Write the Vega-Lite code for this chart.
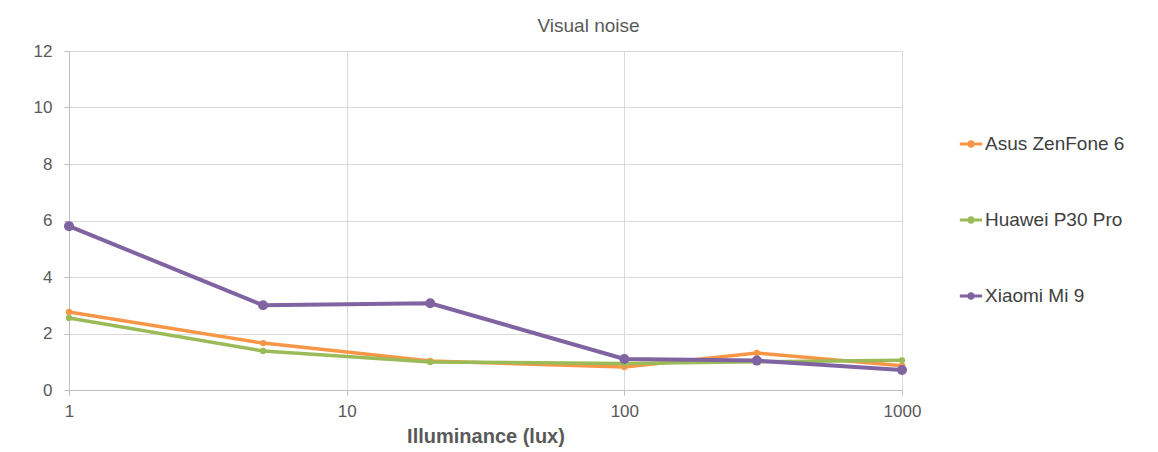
{
  "$schema": "https://vega.github.io/schema/vega-lite/v6.json",
  "width": 833,
  "height": 339,
  "autosize": {"type": "none"},
  "padding": {"left": 69, "top": 51, "right": 256, "bottom": 62},
  "background": "white",
  "config": {
    "font": "Liberation Sans",
    "view": {"stroke": null},
    "axis": {"gridColor": "#d9d9d9", "domainColor": "#bfbfbf", "tickColor": "#bfbfbf", "labelColor": "#595959", "labelFontSize": 17, "labelFont": "Liberation Sans"}
  },
  "title": {"text": "Visual noise", "fontSize": 19, "fontWeight": "normal", "color": "#595959", "anchor": "middle", "dx": 103, "offset": 6, "font": "Liberation Sans"},
  "data": {
    "values": [
      {"lux": 1, "noise": 2.76, "series": "Asus ZenFone 6"},
      {"lux": 5, "noise": 1.66, "series": "Asus ZenFone 6"},
      {"lux": 20, "noise": 1.03, "series": "Asus ZenFone 6"},
      {"lux": 100, "noise": 0.81, "series": "Asus ZenFone 6"},
      {"lux": 300, "noise": 1.31, "series": "Asus ZenFone 6"},
      {"lux": 1000, "noise": 0.86, "series": "Asus ZenFone 6"},
      {"lux": 1, "noise": 2.55, "series": "Huawei P30 Pro"},
      {"lux": 5, "noise": 1.38, "series": "Huawei P30 Pro"},
      {"lux": 20, "noise": 0.99, "series": "Huawei P30 Pro"},
      {"lux": 100, "noise": 0.94, "series": "Huawei P30 Pro"},
      {"lux": 300, "noise": 1.0, "series": "Huawei P30 Pro"},
      {"lux": 1000, "noise": 1.05, "series": "Huawei P30 Pro"},
      {"lux": 1, "noise": 5.8, "series": "Xiaomi Mi 9"},
      {"lux": 5, "noise": 3.0, "series": "Xiaomi Mi 9"},
      {"lux": 20, "noise": 3.07, "series": "Xiaomi Mi 9"},
      {"lux": 100, "noise": 1.1, "series": "Xiaomi Mi 9"},
      {"lux": 300, "noise": 1.04, "series": "Xiaomi Mi 9"},
      {"lux": 1000, "noise": 0.71, "series": "Xiaomi Mi 9"}
    ]
  },
  "encoding": {
    "x": {
      "field": "lux", "type": "quantitative",
      "scale": {"type": "log", "domain": [1, 1000], "nice": false},
      "axis": {"values": [1, 10, 100, 1000], "format": "d", "title": "Illuminance (lux)", "titleFontSize": 20, "titleFontWeight": "bold", "titleColor": "#595959", "titlePadding": 7, "labelPadding": 8, "tickSize": 5, "labelFlush": false}
    },
    "y": {
      "field": "noise", "type": "quantitative",
      "scale": {"domain": [0, 12], "nice": false},
      "axis": {"values": [0, 2, 4, 6, 8, 10, 12], "title": null, "tickSize": 5, "labelPadding": 12, "domain": true}
    },
    "color": {
      "field": "series", "type": "nominal",
      "scale": {"domain": ["Asus ZenFone 6", "Huawei P30 Pro", "Xiaomi Mi 9"], "range": ["#f79646", "#9bbb59", "#8064a2"]},
      "legend": {
        "title": null, "orient": "none", "legendX": 889, "legendY": 80,
        "labelFontSize": 19, "labelColor": "#404040", "labelFont": "Liberation Sans",
        "symbolType": "M-1,0H1M-0.2,0A0.2,0.2 0 1,1 0.2,0A0.2,0.2 0 1,1 -0.2,0Z",
        "symbolSize": 500, "symbolStrokeWidth": 3, "rowPadding": 53, "labelOffset": 1
      }
    }
  },
  "layer": [
    {
      "mark": {"type": "line"},
      "encoding": {
        "strokeWidth": {"condition": {"test": "datum.series === 'Xiaomi Mi 9'", "value": 4}, "value": 3.5}
      }
    },
    {
      "mark": {"type": "point", "filled": true, "opacity": 1},
      "encoding": {
        "size": {"condition": {"test": "datum.series === 'Xiaomi Mi 9'", "value": 100}, "value": 40}
      }
    }
  ]
}
